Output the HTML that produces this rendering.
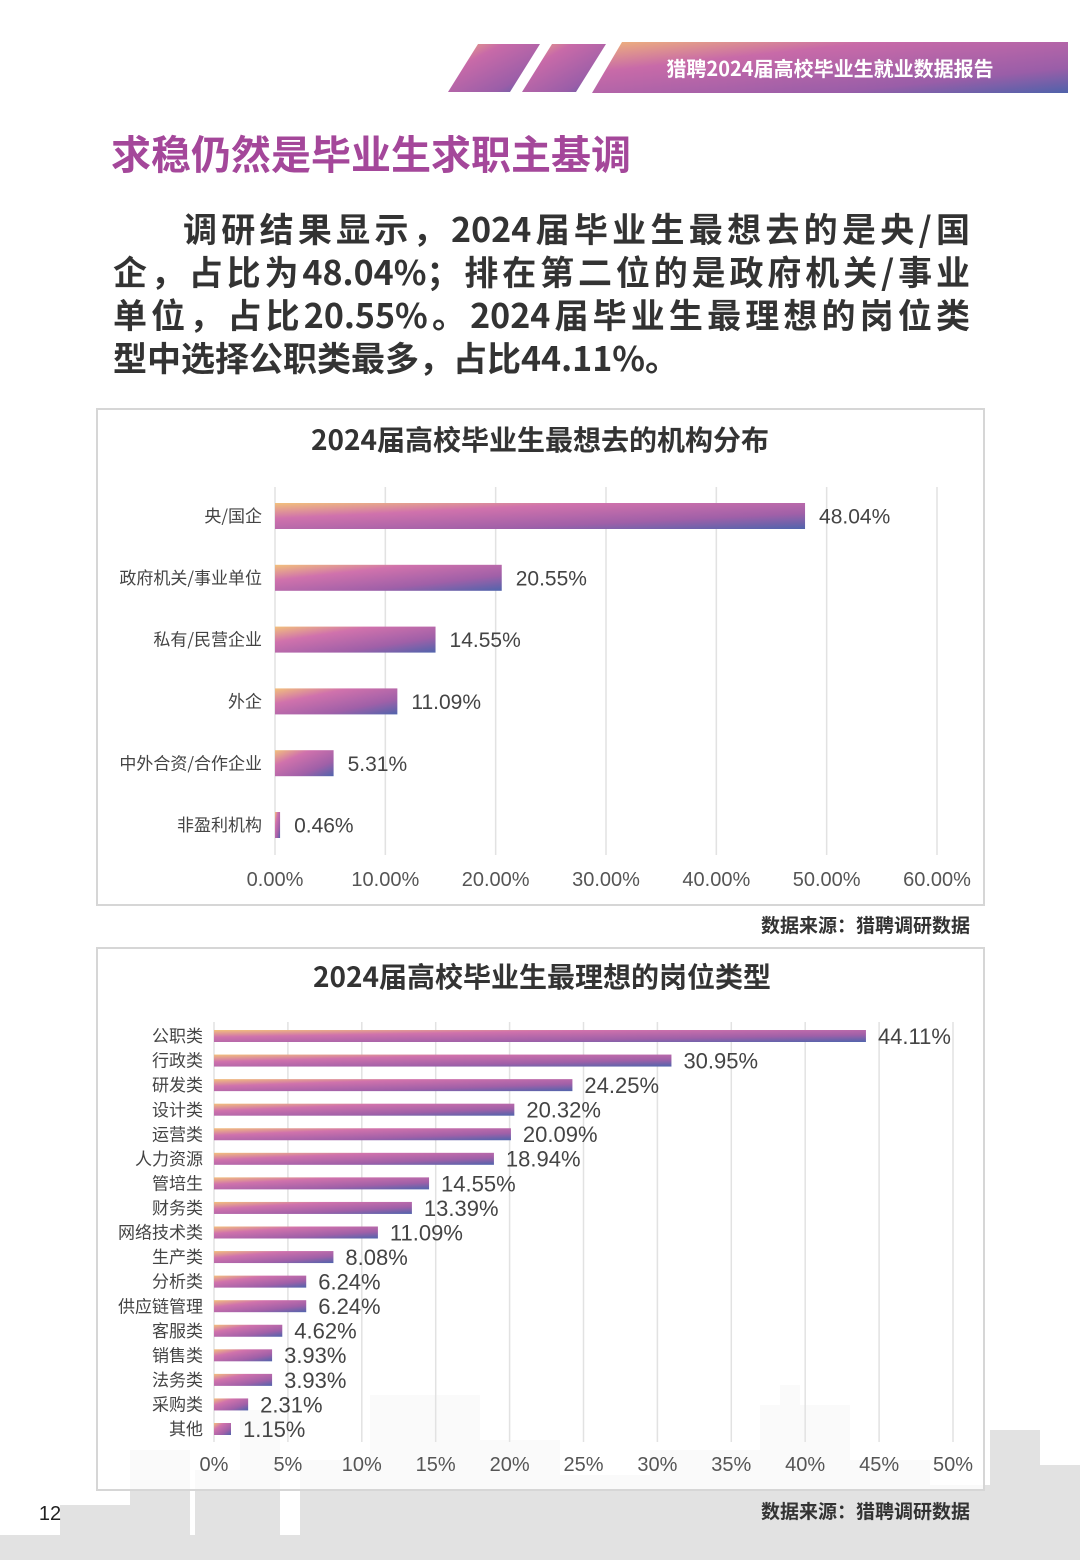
<!DOCTYPE html>
<html><head><meta charset="utf-8">
<style>
body{margin:0;width:1080px;height:1560px;background:#fff;position:relative;overflow:hidden;font-family:"Liberation Sans","Noto Sans CJK SC",sans-serif;}
.abs{position:absolute}
.pl{display:block;text-align:justify;text-align-last:justify;white-space:nowrap;}
</style></head>
<body>
<svg class="abs" style="left:0;top:0" width="1080" height="1560">
<defs>
<linearGradient id="hg" x1="0" y1="0" x2="1" y2="1">
<stop offset="0" stop-color="#f0b47a"/><stop offset="0.3" stop-color="#c86aa8"/><stop offset="0.75" stop-color="#9a5ea8"/><stop offset="1" stop-color="#4f62aa"/></linearGradient>
<linearGradient id="bg" x1="0" y1="0" x2="1" y2="1">
<stop offset="0" stop-color="#f2c07c"/><stop offset="0.3" stop-color="#d072ac"/><stop offset="0.7" stop-color="#a060a8"/><stop offset="1" stop-color="#5064ac"/></linearGradient>
</defs>
<g fill="#e2e2e2">
<rect x="0" y="1535" width="1080" height="25"/>
<rect x="60" y="1505" width="70" height="55"/><rect x="130" y="1450" width="60" height="110"/>
<rect x="195" y="1470" width="80" height="90"/><rect x="240" y="1410" width="40" height="150"/>
<rect x="300" y="1460" width="70" height="100"/><rect x="370" y="1395" width="110" height="165"/>
<rect x="480" y="1440" width="80" height="120"/><rect x="560" y="1475" width="90" height="85"/>
<rect x="650" y="1450" width="110" height="110"/><rect x="760" y="1405" width="90" height="155"/>
<rect x="850" y="1460" width="80" height="100"/><rect x="930" y="1485" width="60" height="75"/>
<rect x="990" y="1430" width="50" height="130"/><rect x="1040" y="1465" width="40" height="95"/>
<rect x="780" y="1385" width="20" height="30"/>
</g>
<polygon points="478,44 540,44 510,92 448,92" fill="url(#hg)"/>
<polygon points="552,44 606,44 576,92 522,92" fill="url(#hg)"/>
<polygon points="622,42 1068,42 1068,93 592,93" fill="url(#hg)"/>
<text x="830" y="76" text-anchor="middle" fill="#fff" font-size="20" font-weight="bold" font-family="Noto Sans CJK SC,sans-serif">猎聘2024届高校毕业生就业数据报告</text>
</svg>

<div class="abs" style="left:111px;top:124px;font-size:40px;font-weight:bold;color:#a4479a;font-family:'Noto Sans CJK SC',sans-serif;line-height:56px;">求稳仍然是毕业生求职主基调</div>
<div class="abs" style="left:113px;top:206px;width:857px;font-size:34px;font-weight:bold;line-height:43px;color:#333;font-family:'Noto Sans CJK SC',sans-serif;">
<span class="pl" style="padding-left:70px">调研结果显示，2024届毕业生最想去的是央/国</span>
<span class="pl">企，占比为48.04%；排在第二位的是政府机关/事业</span>
<span class="pl">单位，占比20.55%。2024届毕业生最理想的岗位类</span>
<span style="display:block;white-space:nowrap">型中选择公职类最多，占比44.11%。</span>
</div>

<svg class="abs" style="left:0;top:0" width="1080" height="1560" id="charts">
<rect x="97" y="409" width="887" height="496" fill="rgba(255,255,255,0.9)" stroke="#d6d6d6" stroke-width="2"/>
<rect x="97" y="948" width="887" height="542" fill="rgba(255,255,255,0.82)" stroke="#d6d6d6" stroke-width="2"/>
<text x="540" y="450" text-anchor="middle" font-size="28" font-weight="bold" fill="#333" font-family="Noto Sans CJK SC,sans-serif">2024届高校毕业生最想去的机构分布</text>
<text x="542" y="987" text-anchor="middle" font-size="28" font-weight="bold" fill="#333" font-family="Noto Sans CJK SC,sans-serif">2024届高校毕业生最理想的岗位类型</text>
<text x="970" y="932" text-anchor="end" font-size="19" font-weight="bold" fill="#333">数据来源：猎聘调研数据</text>
<text x="970" y="1518" text-anchor="end" font-size="19" font-weight="bold" fill="#333">数据来源：猎聘调研数据</text>
<text x="50" y="1520" text-anchor="middle" font-size="20" fill="#222">12</text>
<g id="c1"></g><g id="c2"></g>
</svg>

<script>
const cats1=["央/国企","政府机关/事业单位","私有/民营企业","外企","中外合资/合作企业","非盈利机构"];
const vals1=[48.04,20.55,14.55,11.09,5.31,0.46];
const ticks1=[0,10,20,30,40,50,60];
const cats2=["公职类","行政类","研发类","设计类","运营类","人力资源","管培生","财务类","网络技术类","生产类","分析类","供应链管理","客服类","销售类","法务类","采购类","其他"];
const vals2=[44.11,30.95,24.25,20.32,20.09,18.94,14.55,13.39,11.09,8.08,6.24,6.24,4.62,3.93,3.93,2.31,1.15];
const ticks2=[0,5,10,15,20,25,30,35,40,45,50];
const NS="http://www.w3.org/2000/svg";
function mk(p,t,a){const e=document.createElementNS(NS,t);for(const k in a)e.setAttribute(k,a[k]);p.appendChild(e);return e;}
function drawChart(g,cats,vals,ticks,o){
  const x=v=>o.x0+(v-ticks[0])/(ticks[ticks.length-1]-ticks[0])*(o.x1-o.x0);
  const y=i=>o.y0+i*(o.y1-o.y0)/(cats.length-1);
  ticks.forEach(t=>{
    const l=mk(g,"line",{x1:x(t),x2:x(t),y1:o.gt,y2:o.gb,stroke:"#e2e2e2","stroke-width":1.5});
    
    
    const tx=mk(g,"text",{x:x(t),y:o.ty,"text-anchor":"middle","font-size":o.tf,fill:"#555"});
    tx.textContent=t.toFixed(o.dec)+"%";
    
    
  });
  cats.forEach((c,i)=>{
    const cy=y(i);
    const r=mk(g,"rect",{x:x(0),y:cy-o.bh/2,width:Math.max(x(vals[i])-x(0),2),height:o.bh,fill:"url(#bg)"});
    
    
    const lb=mk(g,"text",{x:o.lx,y:cy+o.cf*0.36,"text-anchor":"end","font-size":o.cf,fill:"#444","font-family":"Noto Sans CJK SC,sans-serif"});
    lb.textContent=c;
    
    
    const vl=mk(g,"text",{x:x(vals[i])+o.vo,y:cy+o.vf*0.36,"font-size":o.vf,fill:"#444"});
    vl.textContent=vals[i].toFixed(2)+"%";
    
    
  });
}
drawChart(document.getElementById("c1"),cats1,vals1,ticks1,{x0:275,x1:937,y0:516,y1:825,gt:487,gb:855,ty:886,tf:20,dec:2,bh:26,lx:262,cf:17,vf:21,vo:14});
drawChart(document.getElementById("c2"),cats2,vals2,ticks2,{x0:214,x1:953,y0:1036,y1:1429,gt:1022,gb:1442,ty:1471,tf:20,dec:0,bh:12,lx:203,cf:17,vf:22,vo:12});
</script>
</body></html>
